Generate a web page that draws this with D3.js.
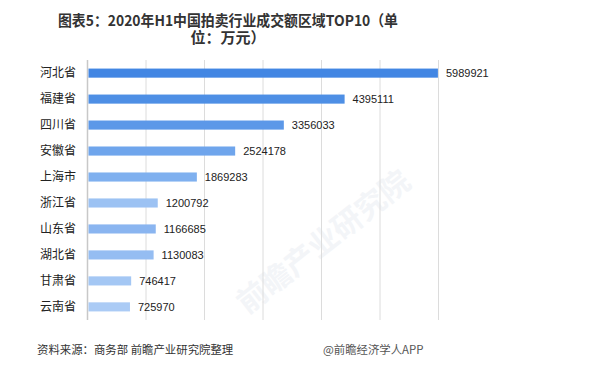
<!DOCTYPE html>
<html>
<head>
<meta charset="utf-8">
<script src="https://cdn.jsdelivr.net/npm/d3@7"></script>
<style>
    body { margin: 0; background: #fff; }
    svg { display: block; }
</style>
</head>
<body>
<div id="chart"></div>
<script>
/* Chart data */
var provinces = ["河北省", "福建省", "四川省", "安徽省", "上海市", "浙江省", "山东省", "湖北省", "甘肃省", "云南省"];
var amounts = [5989921, 4395111, 3356033, 2524178, 1869283, 1200792, 1166685, 1130083, 746417, 725970];
var xTicks = [0, 1000000, 2000000, 3000000, 4000000, 5000000, 6000000];
var titleLines = ["图表5：2020年H1中国拍卖行业成交额区域TOP10（单", "位：万元）"];
var sourceText = "资料来源：商务部 前瞻产业研究院整理";
var brandText = "@前瞻经济学人APP";

/* Bar colours, darkest on top */
var barColors = ["#4286e3", "#4e8fe5", "#5c98e8", "#6fa5ec", "#7fb0ef", "#9cc2f3", "#8ab5f0", "#95bdf2", "#a4c7f4", "#abcbf5"];

var width = 612, height = 392;
var cjk = "'Noto Sans CJK SC', 'Noto Sans', sans-serif";
var num = "'Liberation Sans', Arial, sans-serif";

var theSVG = d3.select("#chart")
    .append("svg")
    .attr ("width", width)
    .attr ("height", height);

theSVG.append ("rect")
    .attr ("width", width)
    .attr ("height", height)
    .attr ("fill", "#fff");

/* Faint watermark */
theSVG.append ("text")
    .attr ("transform", "translate(330,250) rotate(-38)")
    .attr ("text-anchor", "middle")
    .attr ("font-family", cjk)
    .attr ("font-weight", "bold")
    .attr ("font-size", 30)
    .attr ("fill", "#f3f5f8")
    .text ("前瞻产业研究院");

/* Scales */
var x = d3.scaleLinear()
    .domain ([0, 6000000])
    .range ([87.5, 438.5]);

var y = d3.scaleBand()
    .domain (provinces)
    .range ([60, 320])
    .paddingInner (0.65)
    .paddingOuter (0.33);

/* Grid lines */
theSVG.append ("g")
    .selectAll ("line")
    .data (xTicks)
    .join ("line")
    .attr ("x1", function (d) { return x(d); })
    .attr ("x2", function (d) { return x(d); })
    .attr ("y1", 60)
    .attr ("y2", 320)
    .attr ("stroke", function (d) { return d === 0 ? "#c8c8c8" : "#dcdcdc"; })
    .attr ("stroke-width", function (d) { return d === 0 ? 1.5 : 1; });

/* Bars */
var rows = theSVG.append ("g")
    .selectAll ("g")
    .data (provinces)
    .join ("g");

rows.append ("rect")
    .attr ("x", x(0) + 1)
    .attr ("y", function (d) { return y(d); })
    .attr ("width", function (d, i) { return x(amounts[i]) - x(0) - 1; })
    .attr ("height", y.bandwidth())
    .attr ("fill", function (d, i) { return barColors[i]; });

/* Value labels */
rows.append ("text")
    .attr ("x", function (d, i) { return x(amounts[i]) + 8; })
    .attr ("y", function (d) { return y(d) + y.bandwidth() / 2; })
    .attr ("dy", "0.36em")
    .attr ("font-family", num)
    .attr ("font-size", 11)
    .attr ("fill", "#222")
    .text (function (d, i) { return amounts[i]; });

/* Category axis */
var yAxis = theSVG.append ("g")
    .attr ("transform", "translate(76,0)")
    .call (d3.axisLeft(y).tickSize(0).tickPadding(0));
yAxis.select (".domain").remove();
yAxis.selectAll ("text")
    .attr ("font-family", cjk)
    .attr ("font-size", 12)
    .attr ("fill", "#222");

/* Title, wrapped on two lines */
theSVG.selectAll ("text.title")
    .data (titleLines)
    .join ("text")
    .attr ("class", "title")
    .attr ("x", 228)
    .attr ("y", function (d, i) { return 26 + i * 17; })
    .attr ("text-anchor", "middle")
    .attr ("font-family", cjk)
    .attr ("font-weight", "bold")
    .attr ("font-size", 15)
    .attr ("fill", "#333")
    .attr ("textLength", function (d, i) { return i === 0 ? 340 : null; })
    .attr ("lengthAdjust", "spacingAndGlyphs")
    .text (function (d) { return d; });

/* Footer */
theSVG.append ("text")
    .attr ("x", 37)
    .attr ("y", 354)
    .attr ("font-family", cjk)
    .attr ("font-size", 11.4)
    .attr ("fill", "#333")
    .text (sourceText);

theSVG.append ("text")
    .attr ("x", 323)
    .attr ("y", 354)
    .attr ("font-family", cjk)
    .attr ("font-size", 11.4)
    .attr ("fill", "#555")
    .text (brandText);
</script>
</body>
</html>
